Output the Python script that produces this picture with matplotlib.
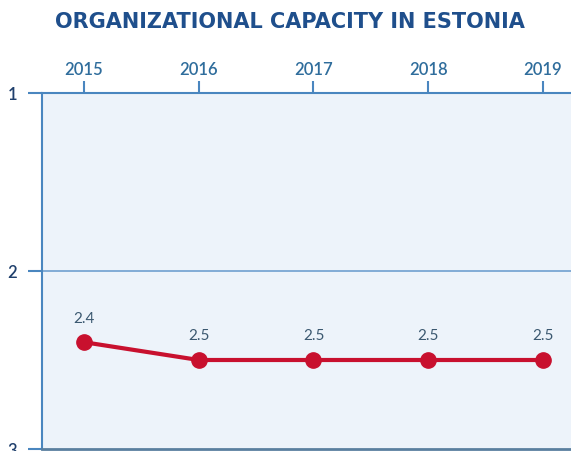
import matplotlib
matplotlib.use("Agg")
import matplotlib.pyplot as plt

years = [2015, 2016, 2017, 2018, 2019]
scores = [2.4, 2.5, 2.5, 2.5, 2.5]
score_labels = ["2.4", "2.5", "2.5", "2.5", "2.5"]
y_ticks = [1, 2, 3]
y_tick_labels = ["1", "2", "3"]

title_col = "#1f4f8c"
axis_col = "#4a86bf"
tick_col = "#2f6d9c"
line_col = "#c8102e"

fig = plt.figure(figsize=(5.71, 4.51), dpi=100)
ax = fig.add_axes([42 / 571, 2 / 451, 1 - 42 / 571, (449 - 93) / 451])
ax.set_facecolor("#edf3fa")

ax.plot(years, scores, color=line_col, lw=3, marker="o", ms=11, zorder=3)
for x, y, t in zip(years, scores, score_labels):
    ax.annotate(t, (x, y), xytext=(0, 12), textcoords="offset points",
                ha="center", va="bottom", fontsize=11, color="#3b5870",
                family="Lato")

ax.set_xlim(2014.634, 2019.244)
ax.set_ylim(3, 1)
ax.set_xticks(years)
ax.set_xticklabels([str(y) for y in years])
ax.set_yticks(y_ticks)
ax.set_yticklabels(y_tick_labels)
ax.xaxis.tick_top()
ax.tick_params(axis="x", length=9, width=1.5, color=axis_col, labelcolor=tick_col,
               labelsize=12, pad=2)
ax.tick_params(axis="y", length=10, width=1.5, color=axis_col, labelcolor="#1f3f6c",
               labelsize=12, pad=8)
for lab in ax.get_xticklabels() + ax.get_yticklabels():
    lab.set_family("Lato")
    lab.set_fontweight("semibold")

ax.axhline(2, color="#6fa0cf", lw=1.2, zorder=1)
for side in ["top", "left"]:
    ax.spines[side].set_color(axis_col)
    ax.spines[side].set_linewidth(1.5)
ax.spines["right"].set_visible(False)
ax.spines["bottom"].set_color("#5a7f9f")
ax.spines["bottom"].set_linewidth(2)

fig.text(290 / 571, 1 - 22 / 451, "ORGANIZATIONAL CAPACITY IN ESTONIA",
         ha="center", va="center", fontsize=15, fontweight="heavy",
         color=title_col, family="DejaVu Sans")

fig.savefig("out.png", dpi=100)
